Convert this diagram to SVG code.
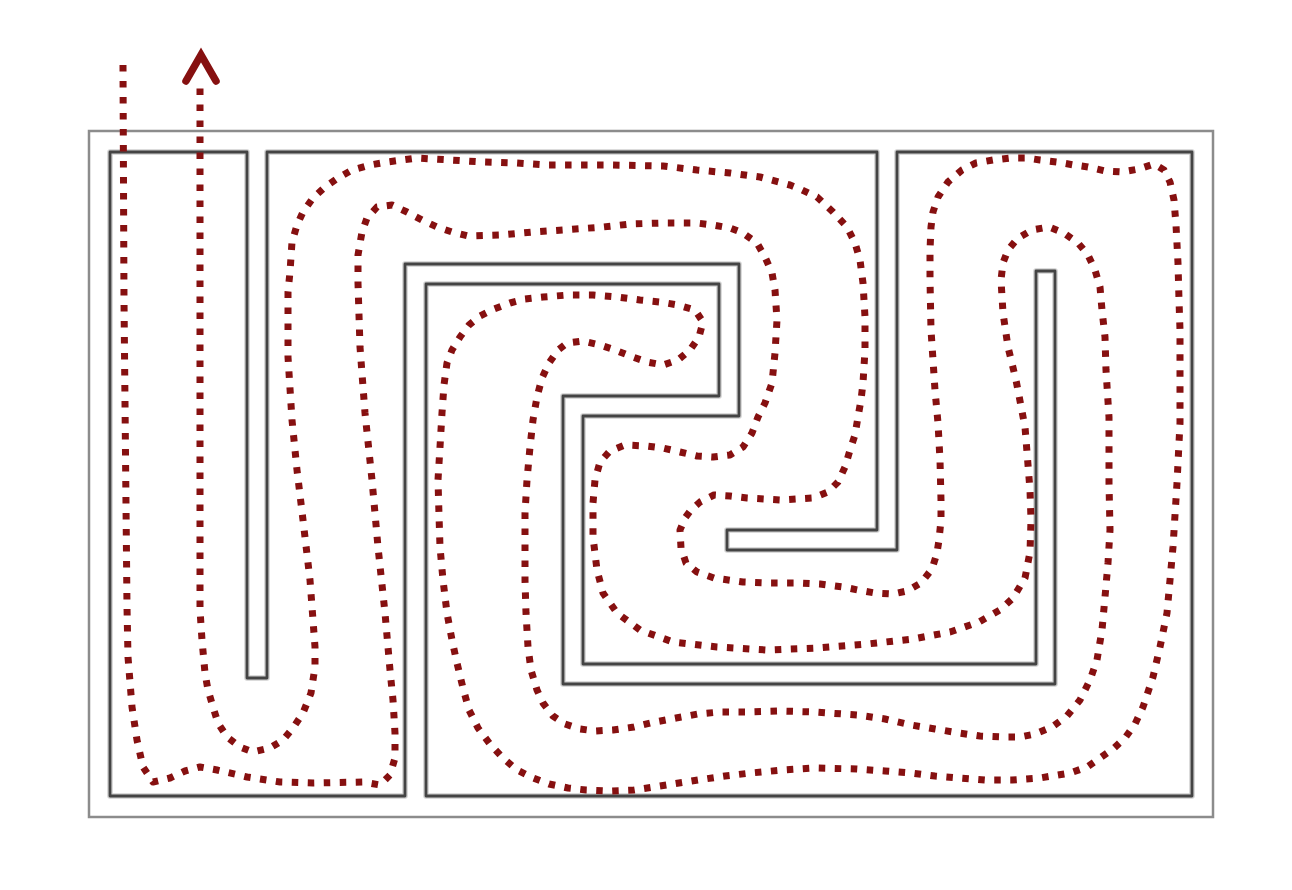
<svg xmlns="http://www.w3.org/2000/svg" width="1292" height="890" viewBox="0 0 1292 890">
<style>
.outer{fill:none;stroke:#8c8c8c;stroke-width:2.5}
.wall{fill:none;stroke:#444444;stroke-width:2.8;stroke-linejoin:round}
.halo{fill:none;stroke:#cfcfcf;stroke-width:5.5;stroke-linejoin:round}
.trail{fill:none;stroke:#861010;stroke-width:7;stroke-dasharray:6.5 9.5;stroke-linecap:butt;stroke-linejoin:round}
.head{fill:none;stroke:#861010;stroke-width:7.5;stroke-linecap:round;stroke-linejoin:miter}
</style>
<rect width="1292" height="890" fill="#ffffff"/>
<g id="maze">
<rect class="outer" x="89" y="131" width="1124" height="686"/>
<path class="halo" d="M110,152 L247,152 L247,678 L267,678 L267,152 L877,152 L877,530 L727,530 L727,550 L897,550 L897,152 L1192,152 L1192,796 L426,796 L426,284 L719,284 L719,396 L563,396 L563,684 L1055,684 L1055,271 L1036,271 L1036,664 L583,664 L583,416 L739,416 L739,264 L405,264 L405,796 L110,796 Z"/>
<path class="wall" d="M110,152 L247,152 L247,678 L267,678 L267,152 L877,152 L877,530 L727,530 L727,550 L897,550 L897,152 L1192,152 L1192,796 L426,796 L426,284 L719,284 L719,396 L563,396 L563,684 L1055,684 L1055,271 L1036,271 L1036,664 L583,664 L583,416 L739,416 L739,264 L405,264 L405,796 L110,796 Z"/>
</g>
<g id="connectors">
<path id="route" class="trail" d="M123,65 L124,300 L127,607 L128,657 L132,707 L137,740 L143,767 L153,782 L170,778 L185,771 L200,767 L217,770 L247,777 L280,782 L313,783 L363,782 L380,785 L390,775 L395,758 L395,733 L393,700 L390,670 L385,613 L378,547 L372,480 L365,413 L360,347 L358,283 L358,255 L362,232 L367,218 L377,207 L392,205 L407,212 L422,220 L437,227 L452,232 L468,236 L500,235 L533,232 L563,230 L603,227 L630,224 L663,223 L697,223 L713,225 L730,228 L743,233 L757,243 L765,257 L772,273 L775,290 L777,320 L775,353 L772,383 L765,403 L758,417 L752,433 L743,447 L730,455 L713,457 L697,456 L680,452 L663,448 L647,446 L625,445 L610,451 L600,462 L595,480 L593,503 L593,537 L597,570 L603,593 L617,613 L640,630 L673,642 L717,647 L767,650 L817,648 L867,644 L913,639 L950,632 L979,622 L1000,610 L1013,598 L1025,578 L1030,552 L1031,520 L1030,490 L1025,427 L1016,380 L1008,347 L1003,313 L1001,280 L1003,263 L1008,250 L1018,238 L1032,230 L1049,227 L1064,233 L1078,243 L1088,255 L1095,270 L1100,287 L1102,310 L1105,337 L1106,370 L1109,417 L1109,483 L1110,530 L1108,563 L1105,597 L1102,630 L1097,660 L1090,680 L1080,700 L1067,716 L1052,727 L1035,734 L1020,737 L1003,737 L980,736 L959,733 L935,729 L911,725 L885,719 L857,715 L815,712 L780,711 L746,712 L720,712 L698,714 L676,718 L655,722 L634,727 L613,730 L595,731 L580,729 L565,724 L553,716 L543,703 L537,690 L531,670 L528,647 L526,613 L525,580 L525,513 L527,480 L530,447 L533,420 L537,397 L542,378 L549,363 L558,350 L567,343 L583,341 L600,345 L615,350 L630,356 L647,362 L663,365 L678,360 L690,350 L699,337 L703,322 L695,310 L678,305 L660,302 L640,300 L617,297 L593,295 L568,295 L543,297 L525,299 L510,303 L494,309 L480,316 L469,325 L460,337 L452,350 L447,363 L444,385 L442,413 L440,447 L438,480 L439,515 L440,547 L443,580 L447,613 L452,640 L457,663 L463,688 L469,710 L478,728 L490,744 L503,758 L517,770 L533,778 L549,784 L568,788 L586,790 L610,791 L634,790 L660,786 L698,780 L725,776 L751,773 L783,770 L815,768 L857,769 L885,771 L911,773 L935,776 L959,778 L985,780 L1012,780 L1040,778 L1070,773 L1087,767 L1100,758 L1113,749 L1125,738 L1135,724 L1143,707 L1153,677 L1160,647 L1167,613 L1170,580 L1173,547 L1177,483 L1180,423 L1180,380 L1180,330 L1179,300 L1178,263 L1176,225 L1174,200 L1170,182 L1164,170 L1154,164 L1139,169 L1122,172 L1105,171 L1088,167 L1074,165 L1057,162 L1040,160 L1027,158 L1010,158 L993,160 L976,163 L962,170 L948,182 L938,197 L933,212 L931,227 L930,250 L930,280 L931,330 L933,360 L935,390 L938,423 L940,460 L941,500 L941,520 L939,540 L937,553 L932,569 L921,583 L907,591 L893,594 L875,593 L858,590 L843,587 L820,584 L800,583 L770,583 L743,582 L714,578 L697,572 L686,563 L681,548 L680,530 L685,518 L691,510 L700,502 L714,495 L730,496 L747,498 L780,500 L813,498 L828,492 L838,482 L845,467 L850,450 L855,435 L858,417 L861,400 L863,383 L865,350 L865,317 L863,283 L860,260 L855,243 L847,227 L833,212 L817,197 L800,189 L790,185 L760,177 L730,173 L697,170 L663,166 L613,165 L547,165 L517,163 L483,162 L450,160 L417,158 L387,162 L370,165 L352,170 L338,178 L325,187 L313,198 L303,212 L297,225 L292,242 L290,272 L288,292 L288,357 L292,420 L297,470 L303,520 L310,580 L313,620 L315,647 L315,667 L311,693 L303,713 L293,728 L283,740 L270,748 L253,752 L240,747 L227,737 L218,723 L213,707 L208,690 L205,673 L202,640 L200,610 L200,400 L200,200 L200,86"/>
<path id="arrowhead" class="head" d="M186,81 L201,55 L216,81"/>
</g>
</svg>
